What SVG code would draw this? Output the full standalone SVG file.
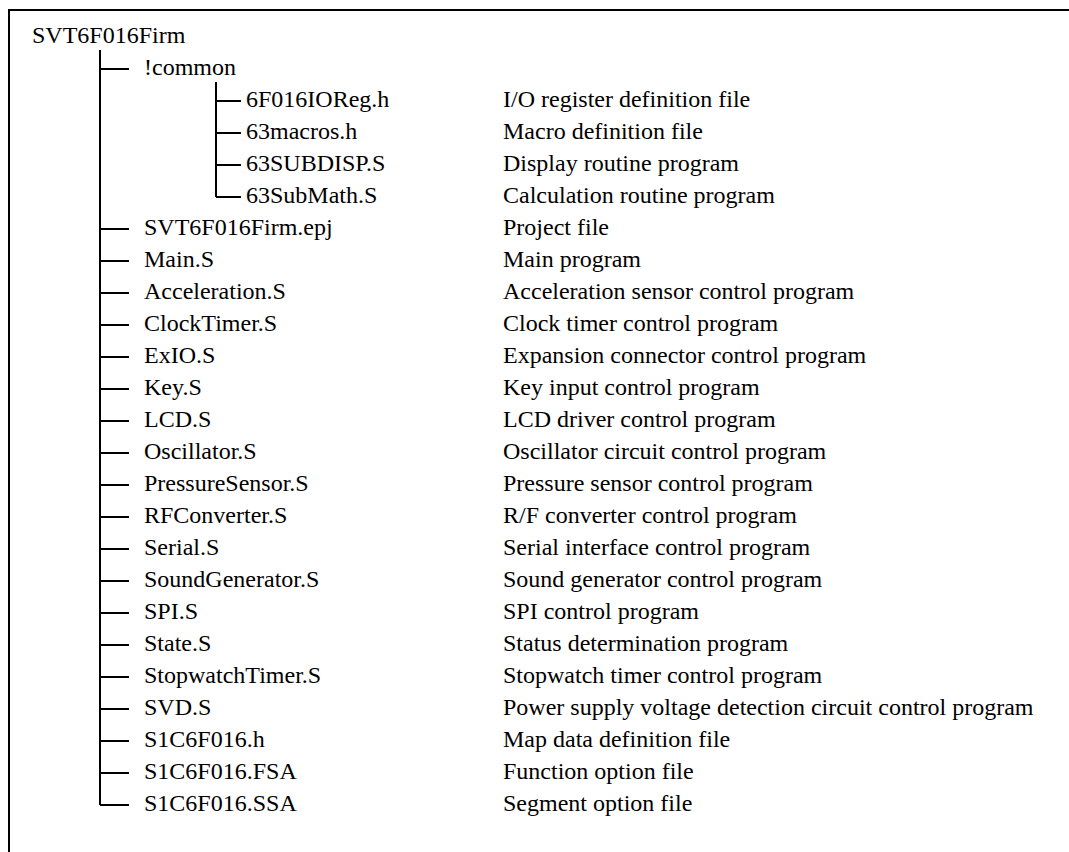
<svg xmlns="http://www.w3.org/2000/svg" width="1069" height="852" viewBox="0 0 1069 852">
<style>
text{font-family:"Liberation Serif","Times New Roman",serif;font-size:24px;fill:#000}
.ln{stroke:#000;stroke-width:2;fill:none}
.fr{stroke:#000;stroke-width:2;fill:none}
</style>
<rect width="1069" height="852" fill="#fff"/>
<path class="fr" d="M9,852 V10 H1069"/>
<g id="connectors">
<path class="ln" d="M100,50 V805"/>
<path class="ln" d="M216,82 V197"/>
<path class="ln" d="M100,69 H129"/>
<path class="ln" d="M216,101 H241 M216,133 H241 M216,165 H241 M216,197 H241"/>
<path class="ln" d="M100,229 H129 M100,261 H129 M100,293 H129 M100,325 H129 M100,357 H129 M100,389 H129 M100,421 H129 M100,453 H129 M100,485 H129 M100,517 H129 M100,549 H129 M100,581 H129 M100,613 H129 M100,645 H129 M100,677 H129 M100,709 H129 M100,741 H129 M100,773 H129 M100,805 H129"/>
</g>
<g id="root"><text x="32" y="43">SVT6F016Firm</text></g>
<g id="common"><text x="144" y="75">!common</text></g>
<g id="n-ioreg"><text x="246" y="107">6F016IOReg.h</text><text x="503" y="107">I/O register definition file</text></g>
<g id="n-macros"><text x="246" y="139">63macros.h</text><text x="503" y="139">Macro definition file</text></g>
<g id="n-subdisp"><text x="246" y="171">63SUBDISP.S</text><text x="503" y="171">Display routine program</text></g>
<g id="n-submath"><text x="246" y="203">63SubMath.S</text><text x="503" y="203">Calculation routine program</text></g>
<g id="n-epj"><text x="144" y="235">SVT6F016Firm.epj</text><text x="503" y="235">Project file</text></g>
<g id="n-main"><text x="144" y="267">Main.S</text><text x="503" y="267">Main program</text></g>
<g id="n-accel"><text x="144" y="299">Acceleration.S</text><text x="503" y="299">Acceleration sensor control program</text></g>
<g id="n-clock"><text x="144" y="331">ClockTimer.S</text><text x="503" y="331">Clock timer control program</text></g>
<g id="n-exio"><text x="144" y="363">ExIO.S</text><text x="503" y="363">Expansion connector control program</text></g>
<g id="n-key"><text x="144" y="395">Key.S</text><text x="503" y="395">Key input control program</text></g>
<g id="n-lcd"><text x="144" y="427">LCD.S</text><text x="503" y="427">LCD driver control program</text></g>
<g id="n-osc"><text x="144" y="459">Oscillator.S</text><text x="503" y="459">Oscillator circuit control program</text></g>
<g id="n-press"><text x="144" y="491">PressureSensor.S</text><text x="503" y="491">Pressure sensor control program</text></g>
<g id="n-rf"><text x="144" y="523">RFConverter.S</text><text x="503" y="523">R/F converter control program</text></g>
<g id="n-serial"><text x="144" y="555">Serial.S</text><text x="503" y="555">Serial interface control program</text></g>
<g id="n-sound"><text x="144" y="587">SoundGenerator.S</text><text x="503" y="587">Sound generator control program</text></g>
<g id="n-spi"><text x="144" y="619">SPI.S</text><text x="503" y="619">SPI control program</text></g>
<g id="n-state"><text x="144" y="651">State.S</text><text x="503" y="651">Status determination program</text></g>
<g id="n-stopwatch"><text x="144" y="683">StopwatchTimer.S</text><text x="503" y="683">Stopwatch timer control program</text></g>
<g id="n-svd"><text x="144" y="715">SVD.S</text><text x="503" y="715">Power supply voltage detection circuit control program</text></g>
<g id="n-map"><text x="144" y="747">S1C6F016.h</text><text x="503" y="747">Map data definition file</text></g>
<g id="n-fsa"><text x="144" y="779">S1C6F016.FSA</text><text x="503" y="779">Function option file</text></g>
<g id="n-ssa"><text x="144" y="811">S1C6F016.SSA</text><text x="503" y="811">Segment option file</text></g>
</svg>
